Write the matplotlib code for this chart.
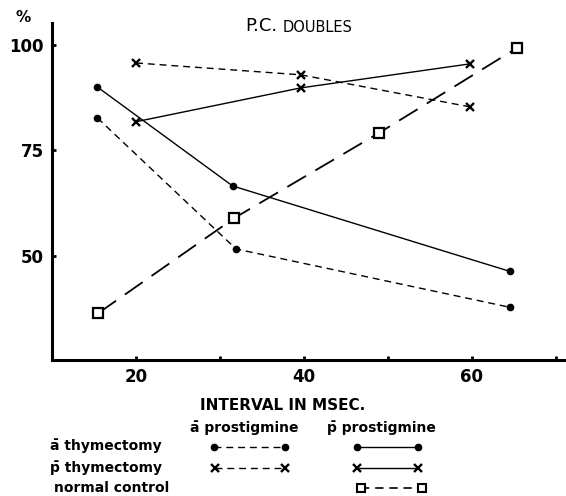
import numpy as np
import matplotlib.pyplot as plt
from matplotlib.lines import Line2D

# ā thymectomy
ath_x_a = [15.4, 31.9, 64.5]     # ā prostigmine (dashed)
ath_y_a = [82.7, 51.7, 37.9]
ath_x_p = [15.4, 31.5, 64.5]     # p̄ prostigmine (solid)
ath_y_p = [90.0, 66.6, 46.4]
# p̄ thymectomy
pth_x_a = [20.0, 39.6, 59.8]
pth_y_a = [95.7, 92.9, 85.3]
pth_x_p = [20.0, 39.6, 59.8]
pth_y_p = [81.8, 89.8, 95.5]
# normal control
nc_x = [15.5, 31.7, 48.9, 65.4]
nc_y = [36.5, 59.0, 79.1, 99.3]

xticks = [20, 40, 60]
yticks = [50, 75, 100]

plt.rcParams['font.family'] = ['DejaVu Sans']
fig = plt.figure(figsize=(5.66, 4.96), dpi=100)
ax = fig.add_axes([0.092, 0.274, 0.908, 0.68])

dash_s = (0, (5, 3.5))
dash_l = (0, (12, 6))
ax.plot(ath_x_a, ath_y_a, color='k', ls=dash_s, lw=1.0, marker='o', ms=4.5)
ax.plot(ath_x_p, ath_y_p, color='k', ls='-', lw=1.0, marker='o', ms=4.5)
ax.plot(pth_x_a, pth_y_a, color='k', ls=dash_s, lw=1.0, marker='x', ms=5.5, mew=1.7)
ax.plot(pth_x_p, pth_y_p, color='k', ls='-', lw=1.0, marker='x', ms=5.5, mew=1.7)
ax.plot(nc_x, nc_y, color='k', ls=dash_l, lw=1.3, marker='s', ms=6.5,
        mfc='white', mew=1.6)

ax.set_xlim(10, 71.2)
ax.set_ylim(25.4, 105.2)
for s in ['top', 'right']:
    ax.spines[s].set_visible(False)
for s in ['left', 'bottom']:
    ax.spines[s].set_linewidth(2.2)
ax.set_xticks(xticks)
ax.set_xticks([30, 50, 70], minor=True)
ax.set_yticks(yticks)
ax.tick_params(direction='in', length=3, width=2, labelsize=12, pad=6)
ax.tick_params(which='minor', direction='in', length=3, width=2)
for t in ax.get_xticklabels() + ax.get_yticklabels():
    t.set_fontweight('bold')

fig.text(0.04, 0.965, '%', fontsize=11, fontweight='bold', ha='center', va='center')
fig.text(0.49, 0.948, 'P.C.', fontsize=13, ha='right', va='center')
fig.text(0.50, 0.945, 'DOUBLES', fontsize=10.5, ha='left', va='center')

fig.text(0.50, 0.183, 'INTERVAL IN MSEC.', fontsize=11, fontweight='bold', ha='center', va='center')
fig.text(0.335, 0.137, 'a\u0304 prostigmine', fontsize=10, fontweight='bold', ha='left', va='center')
fig.text(0.578, 0.137, 'p\u0304 prostigmine', fontsize=10, fontweight='bold', ha='left', va='center')
fig.text(0.088, 0.101, 'a\u0304 thymectomy', fontsize=10, fontweight='bold', ha='left', va='center')
fig.text(0.088, 0.058, 'p\u0304 thymectomy', fontsize=10, fontweight='bold', ha='left', va='center')
fig.text(0.096, 0.016, 'normal control', fontsize=10, fontweight='bold', ha='left', va='center')

def key(x0, x1, y, ls, marker, **kw):
    fig.add_artist(Line2D([x0 / 566, x1 / 566], [1 - y / 496, 1 - y / 496],
                          color='k', ls=ls, marker=marker, **kw))

key(214, 285, 447, dash_s, 'o', lw=1.0, ms=4.5)
key(357, 418, 447, '-', 'o', lw=1.0, ms=4.5)
key(215, 285, 468, dash_s, 'x', lw=1.0, ms=5.5, mew=1.7)
key(357, 418, 468, '-', 'x', lw=1.0, ms=5.5, mew=1.7)
key(361, 422, 488, dash_s, 's', lw=1.2, ms=6, mfc='white', mew=1.5)

fig.savefig('out.png', dpi=100)
